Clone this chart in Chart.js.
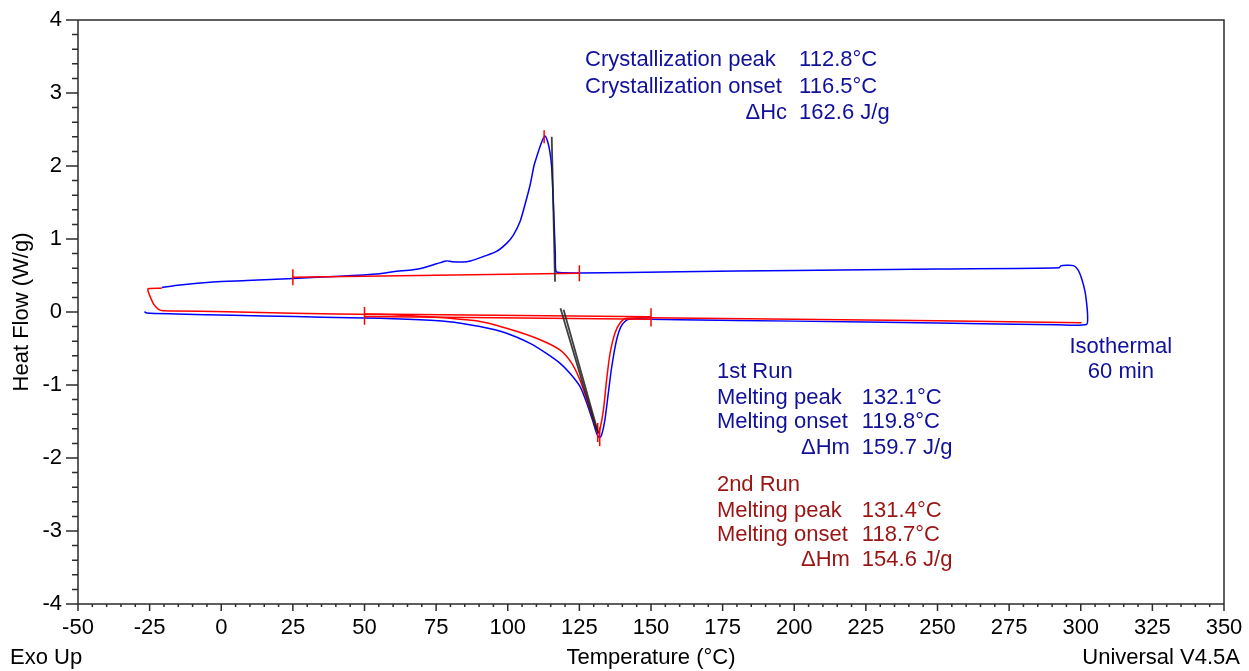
<!DOCTYPE html>
<html>
<head>
<meta charset="utf-8">
<title>DSC heat flow</title>
<script src="https://cdn.jsdelivr.net/npm/chart.js@4.4.1/dist/chart.umd.min.js"></script>
<style>
  html, body { margin: 0; padding: 0; background: #fff; }
  canvas { display: block; }
</style>
</head>
<body>
<canvas id="dscChart" width="1249" height="671"></canvas>
<script>
// 1st heating (blue), then isothermal hold at the top end, then cooling back down (blue)
const run1Temp = [-26.8, -26.0, -15.5, 4, 25.7, 45, 55.4, 65, 78.7, 90.3, 99.6, 107.8, 113.6, 118.2, 121.7, 125.2, 127.6, 129.9, 131.2, 132.1, 132.8, 133.9, 135.1, 136.3, 138.0, 139.8, 142.1, 150, 160, 200, 250, 291.6, 302.0];
const run1Flow = [0.004, -0.015, -0.027, -0.045, -0.062, -0.08, -0.087, -0.1, -0.13, -0.2, -0.29, -0.43, -0.57, -0.70, -0.84, -1.02, -1.25, -1.52, -1.68, -1.72, -1.68, -1.48, -1.11, -0.75, -0.38, -0.18, -0.10, -0.10, -0.105, -0.125, -0.15, -0.175, -0.172];
const holdTemp = [302.4, 302.1, 301.5, 300.3, 299.1, 297.5, 295, 293, 292.5];
const holdFlow = [-0.064, 0.1, 0.28, 0.46, 0.575, 0.635, 0.64, 0.632, 0.607];
const coolTemp = [250, 200, 160, 125, 118, 116.8, 116.6, 116.2, 115.8, 115.3, 114.6, 113.8, 113.0, 112.3, 111.4, 110.3, 109.2, 107.8, 106.0, 104.3, 101.9, 99.6, 96.1, 91.5, 87, 84, 80.5, 78.5, 75.2, 70, 67, 60, 55.4, 41.4, 25.2, 8.9, -2.8, -14.4, -20.8];
const coolFlow = [0.59, 0.57, 0.55, 0.535, 0.54, 0.56, 0.8, 1.2, 1.6, 2.0, 2.22, 2.35, 2.41, 2.37, 2.28, 2.15, 2.01, 1.74, 1.47, 1.24, 1.05, 0.94, 0.83, 0.76, 0.7, 0.685, 0.69, 0.7, 0.66, 0.6, 0.58, 0.55, 0.525, 0.49, 0.46, 0.43, 0.41, 0.37, 0.335];

// 2nd heating (red)
const run2Temp = [-20.8, -25.5, -25.5, -24.6, -23.5, -22.0, -20.8, -16.7, 2, 25, 55.4, 70, 90.3, 101.9, 111.3, 118.2, 122.3, 125.2, 127.6, 129.9, 131.1, 131.5, 132.2, 133.4, 134.5, 135.7, 137.4, 139.2, 141.5, 150, 200, 250, 300.3];
const run2Flow = [0.325, 0.318, 0.28, 0.19, 0.1, 0.04, 0.02, 0.014, 0.005, -0.018, -0.035, -0.06, -0.13, -0.25, -0.38, -0.52, -0.70, -0.93, -1.2, -1.48, -1.62, -1.66, -1.6, -1.34, -0.93, -0.57, -0.29, -0.15, -0.085, -0.08, -0.1, -0.12, -0.146];

// integration baselines: [T1, Q1, T2, Q2]
const crystBaseline = [25, 0.475, 125, 0.53];
const meltBaseline2 = [50, -0.028, 150, -0.066];
const meltBaseline1 = [50, -0.062, 150, -0.098];

// limit / peak markers: [T, Qlow, Qhigh]
const markers = [
  [25, 0.365, 0.585], [125, 0.42, 0.64],
  [50, -0.175, 0.07], [150, -0.2, 0.05],
  [112.7, 2.31, 2.49],
  [131.4, -1.52, -1.78], [132.1, -1.58, -1.84]
];

// onset tangents: [T1, Q1, T2, Q2]
const tangents = [
  [115.35, 2.40, 116.5, 0.415],
  [118.4, 0.05, 131.0, -1.62],
  [119.5, 0.03, 131.6, -1.66]
];

const crystLabels = ['Crystallization peak', 'Crystallization onset', 'ΔHc'];
const crystValues = ['112.8°C', '116.5°C', '162.6 J/g'];
const meltLabels = ['Melting peak', 'Melting onset', 'ΔHm'];
const run1Values = ['132.1°C', '119.8°C', '159.7 J/g'];
const run2Values = ['131.4°C', '118.7°C', '154.6 J/g'];

const BLUE = '#0000ff';
const RED = '#ff0000';
const TEXT_BLUE = '#10109a';
const TEXT_RED = '#9a1414';
const FONT = '"Liberation Sans", Arial, sans-serif';

function pts(xs, ys) {
  return xs.map((x, i) => ({ x: x, y: ys[i] }));
}
function seg(s) {
  return [{ x: s[0], y: s[1] }, { x: s[2], y: s[3] }];
}
function lineSet(data, color, width, tension) {
  return {
    data: data, showLine: true, pointRadius: 0, borderColor: color,
    borderWidth: width, tension: tension || 0, fill: false
  };
}

const datasets = [];
tangents.forEach(t => datasets.push(lineSet(seg(t), 'rgba(30,30,30,0.85)', 1.8)));
markers.forEach(m => datasets.push(lineSet(seg([m[0], m[1], m[0], m[2]]), RED, 1.5)));
datasets.push(lineSet(seg(crystBaseline), RED, 1.5));
datasets.push(lineSet(seg(meltBaseline2), RED, 1.5));
datasets.push(lineSet(seg(meltBaseline1), RED, 1.5));
datasets.push(lineSet(pts(run2Temp, run2Flow), RED, 1.5, 0.25));
datasets.push(lineSet(
  pts(run1Temp.concat(holdTemp, coolTemp), run1Flow.concat(holdFlow, coolFlow)),
  BLUE, 1.5, 0.25));

// axes frame, minor ticks and the text around the plot
const decorations = {
  id: 'decorations',
  afterDraw(chart) {
    const { ctx, chartArea: a, scales: { x, y } } = chart;
    ctx.save();
    ctx.strokeStyle = '#2b2b2b';
    ctx.lineWidth = 1.5;
    ctx.beginPath();
    ctx.moveTo(a.left - 12, a.top); ctx.lineTo(a.right, a.top); ctx.lineTo(a.right, a.bottom + 7);
    ctx.moveTo(a.left, a.top); ctx.lineTo(a.left, a.bottom + 7);
    ctx.moveTo(a.left - 12, a.bottom); ctx.lineTo(a.right, a.bottom);
    for (let i = -20; i <= 20; i++) {
      const py = y.getPixelForValue(i / 5);
      ctx.moveTo(a.left - (i % 5 === 0 ? 12 : 6), py);
      ctx.lineTo(a.left, py);
    }
    for (let t = -50; t <= 350; t += 5) {
      const px = x.getPixelForValue(t);
      ctx.moveTo(px, a.bottom);
      ctx.lineTo(px, a.bottom + (t % 25 === 0 ? 7 : 3));
    }
    ctx.stroke();

    ctx.font = '22px ' + FONT;
    ctx.textBaseline = 'middle';
    ctx.fillStyle = '#000';

    // bottom captions
    const by = a.bottom + 54;
    ctx.textAlign = 'left';
    ctx.fillText('Exo Up', 10, by);
    ctx.textAlign = 'center';
    ctx.fillText('Temperature (°C)', (a.left + a.right) / 2, by);
    ctx.textAlign = 'right';
    ctx.fillText('Universal V4.5A', chart.width - 9, by);

    // y axis title
    ctx.save();
    ctx.translate(22, (a.top + a.bottom) / 2);
    ctx.rotate(-Math.PI / 2);
    ctx.textAlign = 'center';
    ctx.fillText('Heat Flow (W/g)', 0, 0);
    ctx.restore();

    function block(labels, values, left, valueT, rowsQ, color) {
      ctx.fillStyle = color;
      const lx = x.getPixelForValue(left);
      const vx = x.getPixelForValue(valueT);
      labels.forEach((lab, i) => {
        const py = y.getPixelForValue(rowsQ[i]);
        if (lab.charAt(0) === 'Δ') {
          ctx.textAlign = 'right';
          ctx.fillText(lab, vx - 12, py);
        } else {
          ctx.textAlign = 'left';
          ctx.fillText(lab, lx, py);
        }
        ctx.textAlign = 'left';
        ctx.fillText(values[i], vx, py);
      });
    }

    block(crystLabels, crystValues, 127, 201.7, [3.45, 3.08, 2.73], TEXT_BLUE);

    ctx.fillStyle = TEXT_BLUE;
    ctx.textAlign = 'left';
    ctx.fillText('1st Run', x.getPixelForValue(173), y.getPixelForValue(-0.82));
    block(meltLabels, run1Values, 173, 223.6, [-1.18, -1.51, -1.86], TEXT_BLUE);

    ctx.fillStyle = TEXT_RED;
    ctx.textAlign = 'left';
    ctx.fillText('2nd Run', x.getPixelForValue(173), y.getPixelForValue(-2.37));
    block(meltLabels, run2Values, 173, 223.6, [-2.73, -3.05, -3.40], TEXT_RED);

    ctx.fillStyle = TEXT_BLUE;
    ctx.textAlign = 'center';
    ctx.fillText('Isothermal', x.getPixelForValue(314), y.getPixelForValue(-0.48));
    ctx.fillText('60 min', x.getPixelForValue(314), y.getPixelForValue(-0.82));
    ctx.restore();
  }
};

Chart.defaults.font.family = FONT;
Chart.defaults.color = '#000';

const ctx = document.getElementById('dscChart').getContext('2d');
const dscChart = new Chart(ctx, {
  type: 'scatter',
  data: { datasets: datasets },
  options: {
    responsive: false,
    animation: false,
    devicePixelRatio: 1,
    layout: { padding: { top: 20, right: 25, left: 0, bottom: 0 } },
    plugins: { legend: { display: false }, tooltip: { enabled: false } },
    scales: {
      x: {
        type: 'linear', min: -50, max: 350,
        grid: { display: false, drawTicks: false },
        border: { display: false },
        ticks: { stepSize: 25, padding: 11, maxRotation: 0, autoSkip: false, font: { size: 22 } },
        afterFit: s => { s.height = 67; s.paddingLeft = 0; s.paddingRight = 0; }
      },
      y: {
        type: 'linear', min: -4, max: 4,
        grid: { display: false, drawTicks: false },
        border: { display: false },
        ticks: { stepSize: 1, padding: 16, font: { size: 22 } },
        afterFit: s => { s.width = 78; s.paddingTop = 0; s.paddingBottom = 0; }
      }
    }
  },
  plugins: [decorations]
});
</script>
</body>
</html>
